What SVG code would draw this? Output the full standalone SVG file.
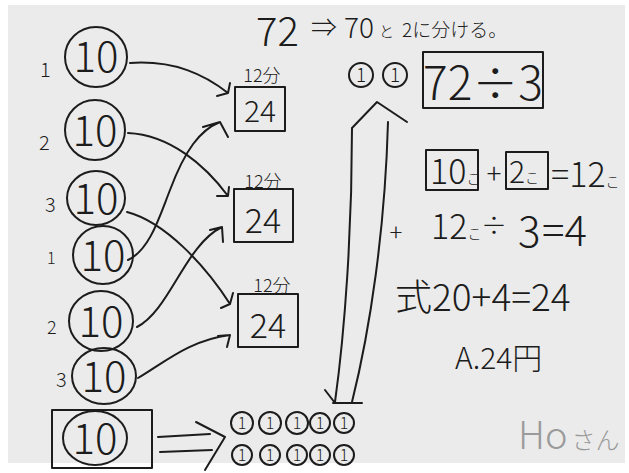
<svg xmlns="http://www.w3.org/2000/svg" width="629" height="473" viewBox="0 0 629 473">
<defs>
<style>
.s{fill:none;stroke:#1c1c1c;stroke-width:2;stroke-linecap:round;stroke-linejoin:round}
.t{font-family:"Noto Sans CJK JP","Noto Sans",sans-serif;fill:#1c1c1c;font-weight:300}
.c{text-anchor:middle}
</style>
</defs>
<rect x="0" y="0" width="629" height="473" fill="#ffffff"/>
<rect x="8" y="5" width="617" height="458" fill="#ebebeb"/>

<!-- title -->
<g id="title">
<text class="t" x="256" y="46" font-size="40">72</text>
<text class="t" x="311" y="37" font-size="26">⇒</text>
<text class="t" x="344" y="38" font-size="28">70</text>
<text class="t" x="379" y="37" font-size="15">と</text>
<text class="t" x="402" y="37" font-size="19">2に分ける。</text>
</g>

<!-- left circles -->
<g id="c1"><text class="t" x="40" y="77" font-size="20">1</text><ellipse class="s" cx="96" cy="57" rx="31" ry="30"/><text class="t c" x="96" y="72" font-size="42">10</text></g>
<g id="c2"><text class="t" x="39" y="150" font-size="20">2</text><ellipse class="s" cx="95" cy="130" rx="30" ry="30"/><text class="t c" x="95" y="146" font-size="42">10</text></g>
<g id="c3"><text class="t" x="45" y="212" font-size="20">3</text><ellipse class="s" cx="96" cy="198" rx="29" ry="27"/><text class="t c" x="96" y="214" font-size="42">10</text></g>
<g id="c4"><text class="t" x="47" y="264" font-size="16">1</text><ellipse class="s" cx="103" cy="255" rx="30" ry="29"/><text class="t c" x="103" y="271" font-size="42">10</text></g>
<g id="c5"><text class="t" x="47" y="334" font-size="18">2</text><ellipse class="s" cx="101" cy="321" rx="32" ry="30"/><text class="t c" x="101" y="337" font-size="42">10</text></g>
<g id="c6"><text class="t" x="56" y="387" font-size="20">3</text><ellipse class="s" cx="104" cy="376" rx="32" ry="28"/><text class="t c" x="104" y="392" font-size="42">10</text></g>
<g id="c7"><rect class="s" x="52" y="410" width="100" height="58"/><ellipse class="s" cx="95" cy="438" rx="32" ry="27"/><text class="t c" x="95" y="454" font-size="42">10</text></g>

<!-- boxes -->
<g id="b1"><text class="t c" x="262" y="82" font-size="18">12分</text><rect class="s" x="235" y="87" width="50" height="44"/><text class="t c" x="260" y="122" font-size="30">24</text></g>
<g id="b2"><text class="t c" x="263" y="188" font-size="18">12分</text><rect class="s" x="234" y="189" width="59" height="53"/><text class="t c" x="263" y="233" font-size="34">24</text></g>
<g id="b3"><text class="t c" x="272" y="292" font-size="18">12分</text><rect class="s" x="238" y="294" width="60" height="53"/><text class="t c" x="268" y="338" font-size="34">24</text></g>

<!-- connectors -->
<g id="connectors">
<path class="s" d="M130,63 C175,60 205,75 228,93 M217,96 L228,93 L230,83"/>
<path class="s" d="M128,133 C170,135 205,165 228,196 M217,196 L228,196 L229,187"/>
<path class="s" d="M127,212 C165,222 205,265 230,304 M221,308 L230,304 L233,293"/>
<path class="s" d="M128,260 C150,250 160,215 170,190 C185,150 200,130 220,122 M203,127 L220,122 L228,137"/>
<path class="s" d="M137,327 C170,310 185,245 222,227 M210,230 L222,227 L223,242"/>
<path class="s" d="M138,378 C165,362 190,340 230,335 M218,336 L230,335 L227,347"/>
<path class="s" d="M158,437 L210,434 M160,452 L212,450 M196,422 L225,437 L205,470"/>
<path class="s" d="M335,402 C345,330 352,230 352,128 M352,402 C370,330 385,230 388,122 M352,128 L377,102 L407,122 M325,390 L335,403 M333,403 L362,403"/>
</g>

<!-- small circled ones -->
<g id="ones">
<g class="s"><circle cx="242" cy="423" r="11"/><circle cx="270" cy="423" r="11"/><circle cx="297" cy="423" r="11"/><circle cx="320" cy="423" r="10"/><circle cx="344" cy="423" r="10"/>
<circle cx="242" cy="455" r="10"/><circle cx="270" cy="455" r="10"/><circle cx="297" cy="455" r="10"/><circle cx="320" cy="455" r="10"/><circle cx="344" cy="455" r="10"/></g>
<g class="t c" font-size="16"><text x="242" y="429">1</text><text x="270" y="429">1</text><text x="297" y="429">1</text><text x="320" y="429">1</text><text x="344" y="429">1</text>
<text x="242" y="461">1</text><text x="270" y="461">1</text><text x="297" y="461">1</text><text x="320" y="461">1</text><text x="344" y="461">1</text></g>
</g>

<!-- right side -->
<g id="r1"><circle class="s" cx="361" cy="75" r="12"/><circle class="s" cx="395" cy="75" r="12"/><text class="t c" x="361" y="82" font-size="19">1</text><text class="t c" x="395" y="82" font-size="19">1</text></g>
<g id="r2"><rect class="s" x="423" y="52" width="120" height="56"/><text class="t c" x="483" y="100" font-size="46">72÷3</text></g>
<g id="r3">
<rect class="s" x="426" y="150" width="52" height="40"/><text class="t" x="430" y="184" font-size="34">10<tspan font-size="14">こ</tspan></text>
<text class="t c" x="494" y="184" font-size="28">+</text>
<rect class="s" x="506" y="152" width="42" height="37"/><text class="t" x="509" y="183" font-size="30">2<tspan font-size="14">こ</tspan></text>
<text class="t" x="551" y="187" font-size="34">=12<tspan font-size="14">こ</tspan></text>
</g>
<g id="r4">
<text class="t c" x="396" y="241" font-size="24">+</text>
<text class="t" x="431" y="239" font-size="34">12<tspan font-size="14">こ</tspan></text>
<text class="t" x="481" y="235" font-size="26">÷</text>
<text class="t" x="518" y="247" font-size="42">3</text>
<text class="t" x="542" y="246" font-size="42">=4</text>
</g>
<text class="t" x="395" y="311" font-size="37">式20+4=24</text>
<text class="t" x="455" y="369" font-size="30">A.24円</text>
<text x="518" y="449" font-size="38" font-family="Noto Sans CJK JP, sans-serif" font-weight="300" fill="#9a9a9a">Ho<tspan dx="4" font-size="24">さん</tspan></text>
</svg>
